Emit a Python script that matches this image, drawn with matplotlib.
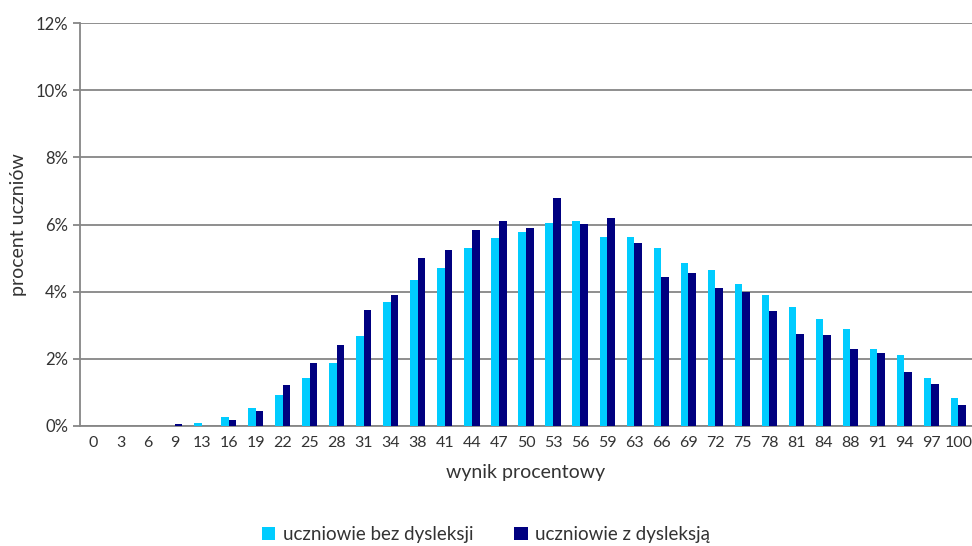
import numpy as np
from matplotlib import pyplot as plt
from matplotlib.ticker import FuncFormatter

plt.rcParams['font.family'] = ['Lato', 'DejaVu Sans']

wyniki = ['0', '3', '6', '9', '13', '16', '19', '22', '25', '28', '31', '34', '38', '41', '44', '47',
          '50', '53', '56', '59', '63', '66', '69', '72', '75', '78', '81', '84', '88', '91', '94', '97', '100']
bez_dysleksji = [0, 0, 0, 0, 0.08, 0.28, 0.55, 0.91, 1.43, 1.88, 2.68, 3.68, 4.36, 4.69, 5.30, 5.60,
                 5.78, 6.03, 6.09, 5.63, 5.63, 5.29, 4.84, 4.66, 4.24, 3.89, 3.53, 3.19, 2.90, 2.28, 2.10, 1.43, 0.82]
z_dysleksja = [0, 0, 0, 0.05, 0, 0.17, 0.45, 1.21, 1.88, 2.40, 3.44, 3.89, 4.99, 5.24, 5.85, 6.09,
               5.90, 6.79, 6.01, 6.18, 5.45, 4.44, 4.57, 4.11, 4.00, 3.41, 2.74, 2.71, 2.28, 2.16, 1.62, 1.25, 0.62]

x = np.arange(len(wyniki))
w = 0.28

fig = plt.figure(figsize=(9.72, 5.46), dpi=100)
ax = fig.add_axes([80/972, 120/546, 892/972, 403/546])

ax.bar(x - w/2, bez_dysleksji, w, color='#00CCFF', label='uczniowie bez dysleksji', zorder=3)
ax.bar(x + w/2, z_dysleksja, w, color='#000080', label='uczniowie z dysleksją', zorder=3)

ax.set_xlim(-0.5, len(wyniki) - 0.5)
ax.set_ylim(0, 12)
ax.set_yticks(np.arange(0, 13, 2))
ax.yaxis.set_major_formatter(FuncFormatter(lambda v, p: '%d%%' % v))
ax.set_xticks(x)
ax.set_xticklabels(wyniki)
ax.grid(axis='y', color='#868686', lw=1.3, zorder=0)

for s in ['top', 'right']:
    ax.spines[s].set_visible(False)
for s in ['left', 'bottom']:
    ax.spines[s].set_color('#868686')
    ax.spines[s].set_linewidth(1.3)
ax.tick_params(axis='y', colors='#868686', length=5, width=1.3, labelcolor='#333333', labelsize=12)
ax.tick_params(axis='x', length=0, labelcolor='#333333', labelsize=11.5, pad=7)

ax.set_xlabel('wynik procentowy', fontsize=14, color='#333333', labelpad=10)
ax.set_ylabel('procent uczniów', fontsize=14, color='#333333', labelpad=6)

fig.legend(loc='lower center', bbox_to_anchor=(0.5, -0.025), ncol=2, frameon=False, fontsize=13.5,
           handlelength=0.7, handleheight=0.7, columnspacing=2.2, handletextpad=0.4,
           labelcolor='#333333')

plt.savefig('out.png', dpi=100)
